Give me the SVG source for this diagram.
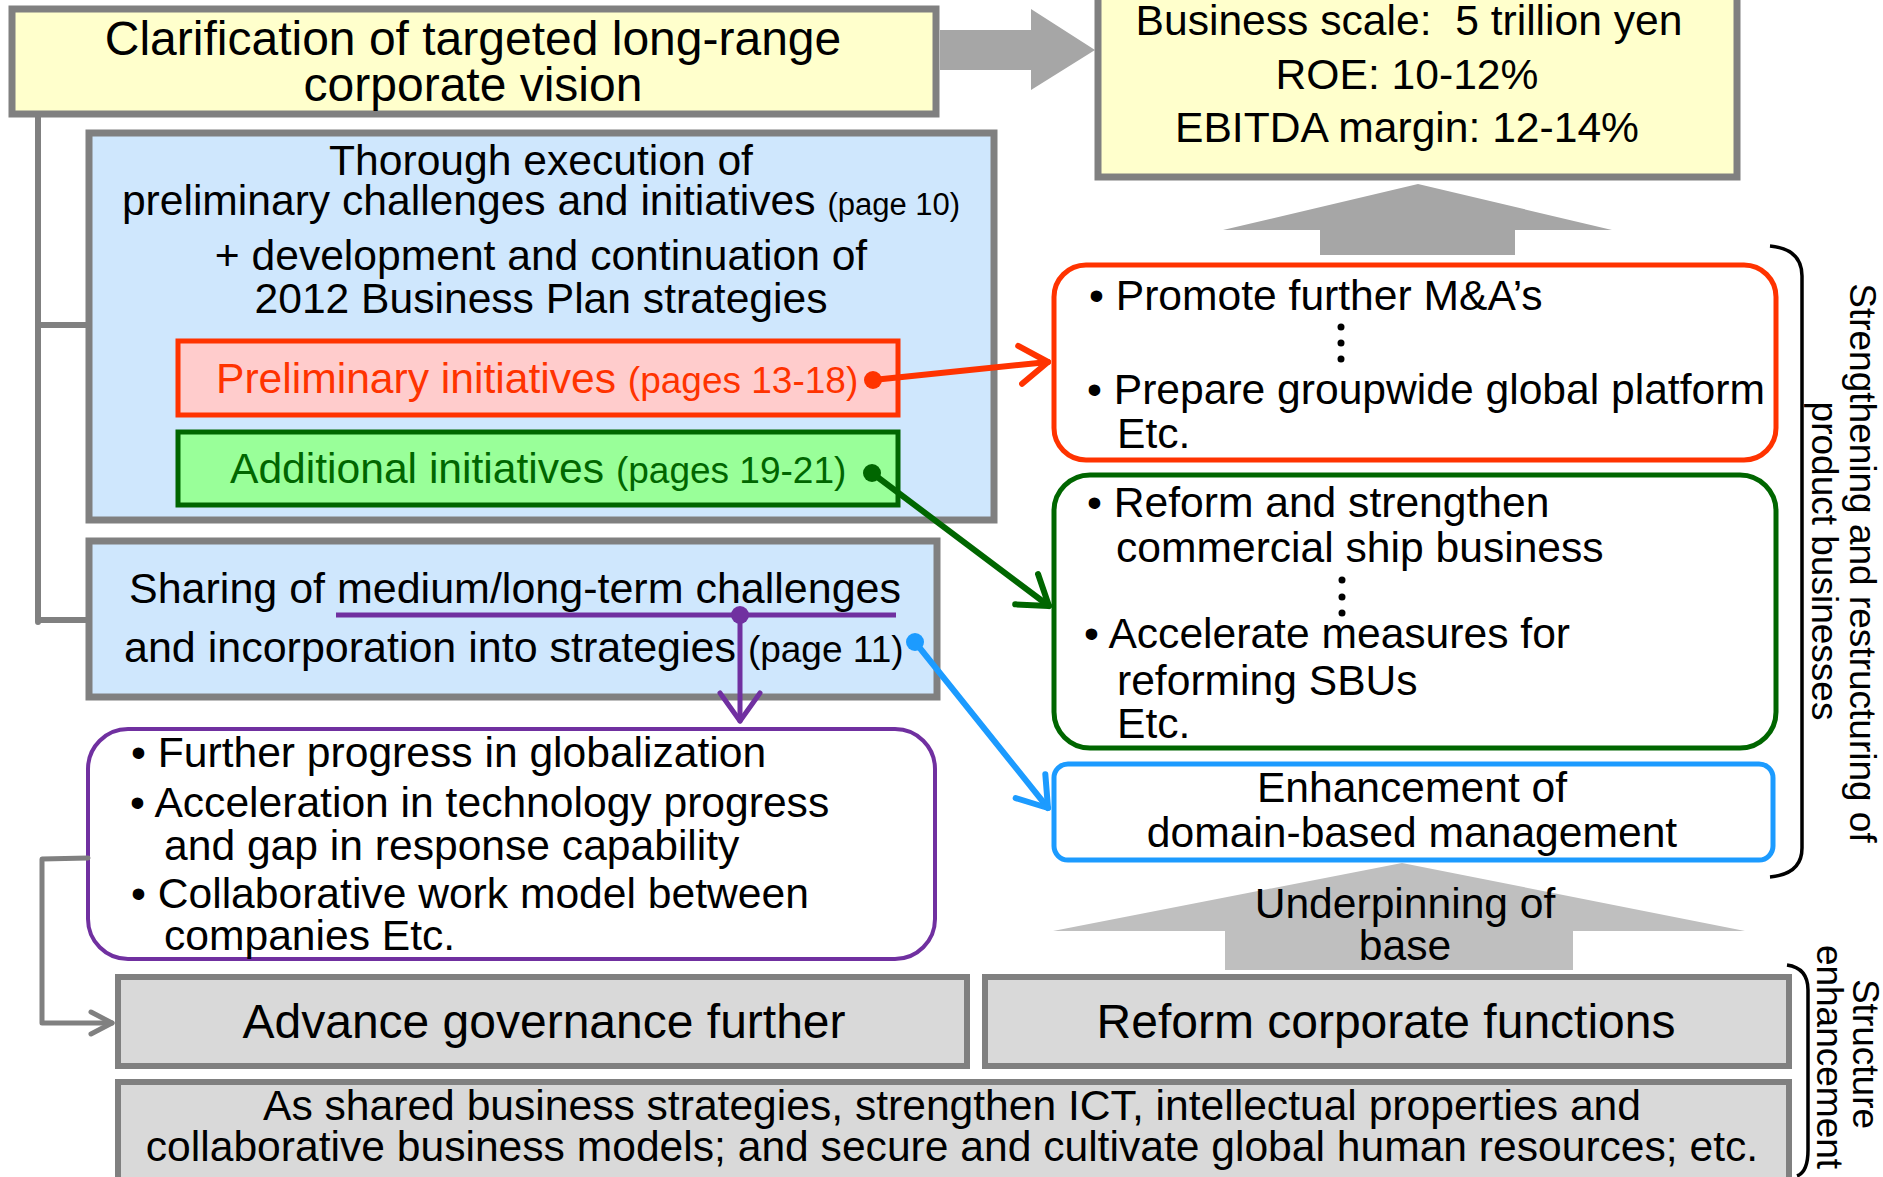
<svg xmlns="http://www.w3.org/2000/svg" width="1883" height="1177" viewBox="0 0 1883 1177">
<style>
text{font-family:"Liberation Sans",Arial,sans-serif;fill:#000;}
.t42{font-size:42.6px;}
.t48{font-size:48px;}
.t37{font-size:37px;}
.sm{font-size:31px;}
.sm2{font-size:37px;}
.mid{text-anchor:middle;}
.gbox{stroke:#808080;stroke-width:7;}
.yel{fill:#FFFFCC;}
.blu{fill:#CFE7FD;}
.gry{fill:#D9D9D9;stroke:#808080;stroke-width:6;}
.rnd{fill:#FFFFFF;stroke-width:5;}
.conn{fill:none;stroke-linecap:round;stroke-linejoin:round;}
</style>
<defs>
<marker id="vRed" markerUnits="userSpaceOnUse" viewBox="-34 -24 38 48" refX="0" refY="0" markerWidth="38" markerHeight="48" orient="auto" overflow="visible"><path d="M-28,-19 L0,0 L-28,19" fill="none" stroke="#FF3300" stroke-width="6" stroke-linecap="round" stroke-linejoin="round"/></marker>
<marker id="vGreen" markerUnits="userSpaceOnUse" viewBox="-34 -24 38 48" refX="0" refY="0" markerWidth="38" markerHeight="48" orient="auto" overflow="visible"><path d="M-28,-19 L0,0 L-28,19" fill="none" stroke="#006600" stroke-width="6" stroke-linecap="round" stroke-linejoin="round"/></marker>
<marker id="vBlue" markerUnits="userSpaceOnUse" viewBox="-34 -24 38 48" refX="0" refY="0" markerWidth="38" markerHeight="48" orient="auto" overflow="visible"><path d="M-28,-19 L0,0 L-28,19" fill="none" stroke="#1C9BFF" stroke-width="6" stroke-linecap="round" stroke-linejoin="round"/></marker>
<marker id="vPurple" markerUnits="userSpaceOnUse" viewBox="-34 -24 38 48" refX="0" refY="0" markerWidth="38" markerHeight="48" orient="auto" overflow="visible"><path d="M-28,-20 L0,0 L-28,20" fill="none" stroke="#7030A0" stroke-width="5" stroke-linecap="round" stroke-linejoin="round"/></marker>
<marker id="vGray" markerUnits="userSpaceOnUse" viewBox="-26 -16 30 32" refX="0" refY="0" markerWidth="30" markerHeight="32" orient="auto" overflow="visible"><path d="M-21,-11 L0,0 L-21,11" fill="none" stroke="#808080" stroke-width="5" stroke-linecap="round" stroke-linejoin="round"/></marker>
<marker id="dRed" markerUnits="userSpaceOnUse" viewBox="-10 -10 20 20" refX="0" refY="0" markerWidth="20" markerHeight="20" overflow="visible"><circle r="9" fill="#FF3300"/></marker>
<marker id="dGreen" markerUnits="userSpaceOnUse" viewBox="-10 -10 20 20" refX="0" refY="0" markerWidth="20" markerHeight="20" overflow="visible"><circle r="9" fill="#006600"/></marker>
<marker id="dBlue" markerUnits="userSpaceOnUse" viewBox="-10 -10 20 20" refX="0" refY="0" markerWidth="20" markerHeight="20" overflow="visible"><circle r="9" fill="#1C9BFF"/></marker>
<marker id="dPurple" markerUnits="userSpaceOnUse" viewBox="-10 -10 20 20" refX="0" refY="0" markerWidth="20" markerHeight="20" overflow="visible"><circle r="9" fill="#7030A0"/></marker>
</defs>
<rect width="1883" height="1177" fill="#FFFFFF"/>

<!-- big gray arrows -->
<g id="arrow-right">
<polygon points="940,30 1031,30 1031,9 1095,50 1031,90 1031,70 940,70" fill="#A6A6A6"/>
</g>
<g id="arrow-up-top">
<polygon points="1418,184 1612,230 1515,230 1515,255 1320,255 1320,230 1223,230" fill="#A6A6A6"/>
</g>

<g id="vision">
<rect class="gbox yel" x="12" y="9" width="924" height="105"/>
<text class="t48 mid" x="473" y="55">Clarification of targeted long-range</text>
<text class="t48 mid" x="473" y="101">corporate vision</text>
</g>

<g id="targets">
<rect class="gbox yel" x="1098" y="-10" width="639" height="187"/>
<text class="t42 mid" x="1409" y="35">Business scale: &#160;5 trillion yen</text>
<text class="t42 mid" x="1407" y="89">ROE: 10-12%</text>
<text class="t42 mid" x="1407" y="142">EBITDA margin: 12-14%</text>
</g>

<g id="execution">
<rect class="gbox blu" x="89" y="133" width="905" height="387"/>
<text class="t42 mid" x="541" y="175">Thorough execution of</text>
<text class="t42 mid" x="541" y="215">preliminary challenges and initiatives <tspan class="sm">(page 10)</tspan></text>
<text class="t42 mid" x="541" y="270">+ development and continuation of</text>
<text class="t42 mid" x="541" y="313">2012 Business Plan strategies</text>
</g>

<g id="preliminary">
<rect x="178" y="341" width="720" height="74" fill="#FFCCCC" stroke="#FF3300" stroke-width="5"/>
<text class="t42" x="216" y="393" style="fill:#FF3300">Preliminary initiatives <tspan class="sm2" style="fill:#FF3300">(pages 13-18)</tspan></text>
</g>

<g id="additional">
<rect x="178" y="432" width="720" height="73" fill="#99FF99" stroke="#006600" stroke-width="5"/>
<text class="t42" x="230" y="483" style="fill:#006600">Additional initiatives <tspan class="sm2" style="fill:#006600">(pages 19-21)</tspan></text>
</g>

<g id="sharing">
<rect class="gbox blu" x="89" y="541" width="848" height="156"/>
<text class="t42" x="129" y="603" style="font-size:43px">Sharing of medium/long-term challenges</text>
<text class="t42" x="124" y="662" style="font-size:43px">and incorporation into strategies <tspan class="sm2">(page 11)</tspan></text>
</g>

<g id="challenges">
<rect x="88" y="729" width="847" height="230" rx="40" fill="#FFFFFF" stroke="#7030A0" stroke-width="4"/>
<text class="t42" x="131" y="767">• Further progress in globalization</text>
<text class="t42" x="130" y="817">• Acceleration in technology progress</text>
<text class="t42" x="164" y="860">and gap in response capability</text>
<text class="t42" x="131" y="908">• Collaborative work model between</text>
<text class="t42" x="164" y="950">companies Etc.</text>
</g>

<g id="governance">
<rect class="gry" x="118" y="977" width="849" height="89"/>
<text class="t48 mid" x="544" y="1038">Advance governance further</text>
</g>

<g id="corporate-functions">
<rect class="gry" x="985" y="977" width="804" height="89"/>
<text class="t48 mid" x="1386" y="1038">Reform corporate functions</text>
</g>

<g id="shared-strategies">
<rect class="gry" x="118" y="1082" width="1671" height="110"/>
<text class="t42 mid" x="952" y="1120">As shared business strategies, strengthen ICT, intellectual properties and</text>
<text class="t42 mid" x="952" y="1161">collaborative business models; and secure and cultivate global human resources; etc.</text>
</g>

<g id="ma">
<rect class="rnd" x="1054" y="265" width="722" height="195" rx="32" stroke="#FF3300"/>
<text class="t42" x="1089" y="310">• Promote further M&amp;A’s</text>
<circle cx="1341" cy="327" r="3.5"/><circle cx="1341" cy="343" r="3.5"/><circle cx="1341" cy="359" r="3.5"/>
<text class="t42" x="1087" y="404">• Prepare groupwide global platform</text>
<text class="t42" x="1117" y="448">Etc.</text>
</g>

<g id="reform">
<rect class="rnd" x="1054" y="475" width="722" height="273" rx="36" stroke="#006600"/>
<text class="t42" x="1087" y="517">• Reform and strengthen</text>
<text class="t42" x="1116" y="562">commercial ship business</text>
<circle cx="1342" cy="580" r="3.5"/><circle cx="1342" cy="597" r="3.5"/><circle cx="1342" cy="613" r="3.5"/>
<text class="t42" x="1084" y="648">• Accelerate measures for</text>
<text class="t42" x="1117" y="695">reforming SBUs</text>
<text class="t42" x="1117" y="738">Etc.</text>
</g>

<g id="domain">
<rect class="rnd" x="1054" y="764" width="719" height="96" rx="14" stroke="#1C9BFF"/>
<text class="t42 mid" x="1412" y="802">Enhancement of</text>
<text class="t42 mid" x="1412" y="847">domain-based management</text>
</g>

<g id="underpinning">
<polygon points="1402,863 1745,931 1573,931 1573,970 1225,970 1225,931 1053,931" fill="#BFBFBF"/>
<text class="t42 mid" x="1405" y="918">Underpinning of</text>
<text class="t42 mid" x="1405" y="960">base</text>
</g>

<g id="label-products">
<path d="M1770,246 Q1802,249 1802,276 L1802,848 Q1802,874 1770,877" fill="none" stroke="#000" stroke-width="3.5"/>
<text class="t37 mid" transform="translate(1850,563) rotate(90)">Strengthening and restructuring of</text>
<text class="t37 mid" transform="translate(1812,561) rotate(90)">product businesses</text>
</g>

<g id="label-structure">
<path d="M1787,965 Q1808,968 1808,990 L1808,1150 Q1808,1172 1797,1176" fill="none" stroke="#000" stroke-width="3.5"/>
<text class="t37 mid" transform="translate(1853,1054) rotate(90)">Structure</text>
<text class="t37 mid" transform="translate(1817,1057) rotate(90)">enhancement</text>
</g>

<g id="connectors">
<path class="conn" d="M38,116 L38,622 M38,325 L88,325 M38,620 L88,620" stroke="#808080" stroke-width="6" stroke-linecap="butt"/>
<path class="conn" d="M88,858 L42,859 L42,1023 L112,1023" stroke="#808080" stroke-width="5" marker-end="url(#vGray)"/>
<path class="conn" d="M873,380 L1048,362" stroke="#FF3300" stroke-width="6" marker-start="url(#dRed)" marker-end="url(#vRed)"/>
<path class="conn" d="M872,473 L1049,606" stroke="#006600" stroke-width="6" marker-start="url(#dGreen)" marker-end="url(#vGreen)"/>
<path class="conn" d="M915,642 L1048,808" stroke="#1C9BFF" stroke-width="6" marker-start="url(#dBlue)" marker-end="url(#vBlue)"/>
<path d="M336,615 L896,615" stroke="#7030A0" stroke-width="5" fill="none"/>
<path class="conn" d="M740,615 L740,721" stroke="#7030A0" stroke-width="5" marker-start="url(#dPurple)" marker-end="url(#vPurple)"/>
</g>
</svg>
